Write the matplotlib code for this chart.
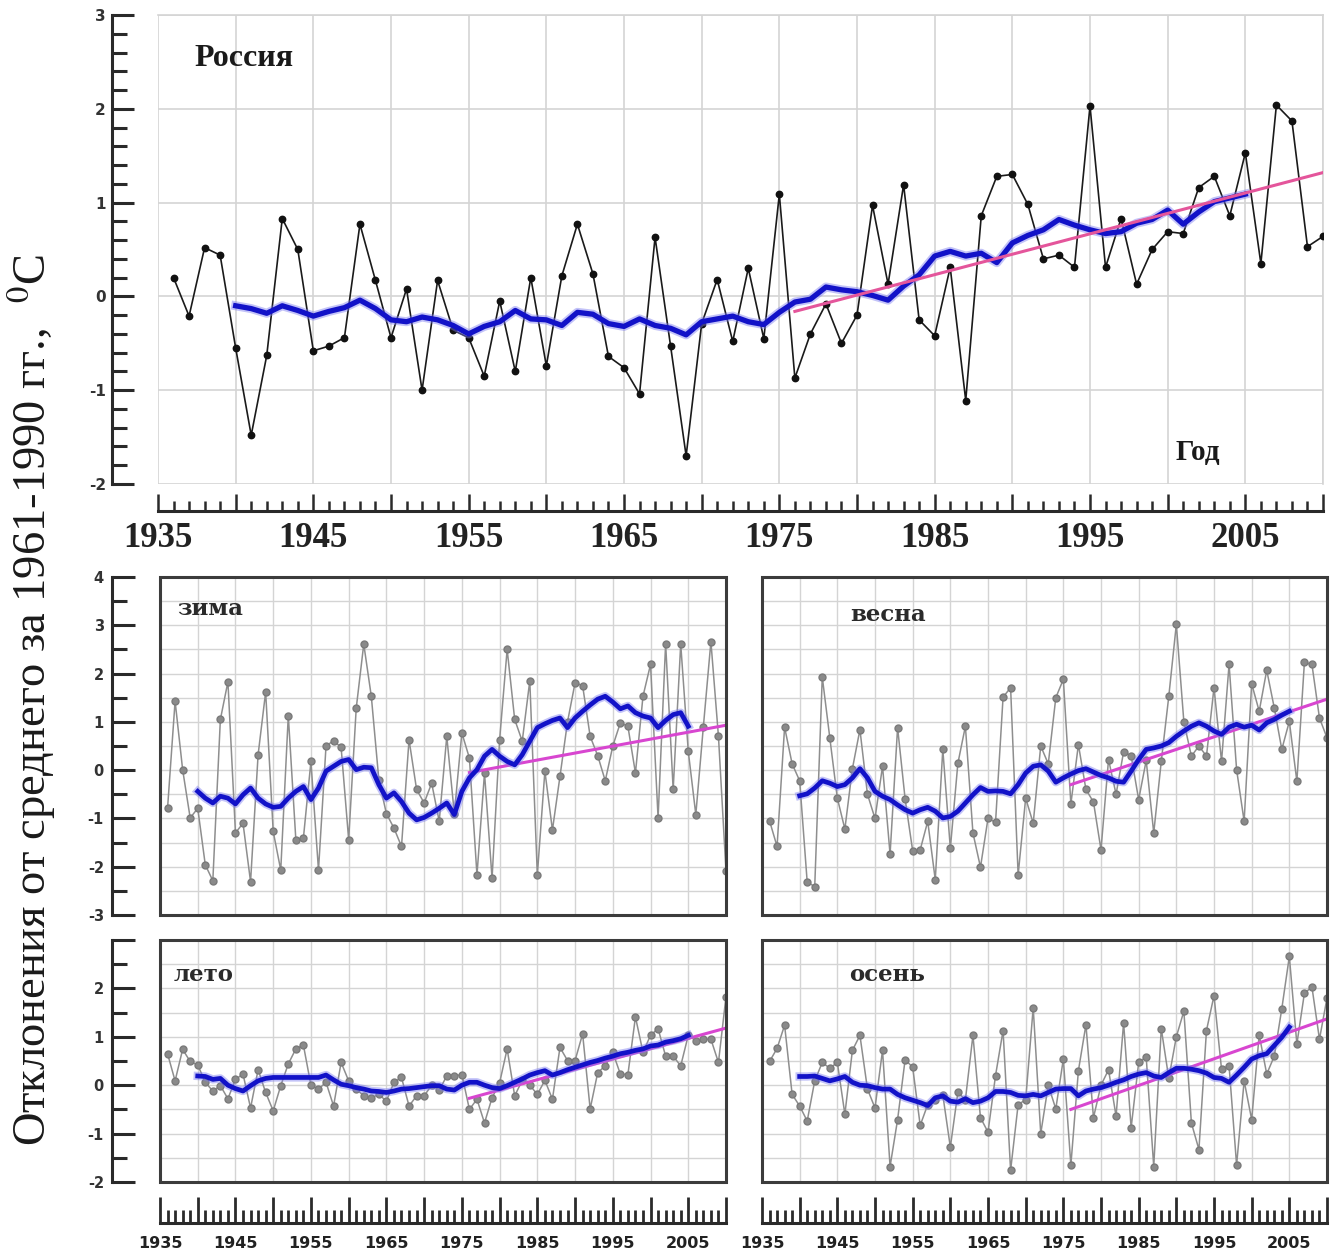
import numpy as np
import matplotlib
matplotlib.use("Agg")
import matplotlib.pyplot as plt
from matplotlib.patches import Rectangle
from matplotlib.ticker import MultipleLocator, FixedLocator, FuncFormatter

plt.rcParams['mathtext.fontset'] = 'stix'
plt.rcParams['axes.unicode_minus'] = False

# ---------------- data: temperature anomalies, deg C (base 1961-1990) ----------------
years = list(range(1936, 2011))

annual = [0.20, -0.21, 0.52, 0.44, -0.55, -1.48, -0.63, 0.83, 0.50, -0.58,
          -0.53, -0.44, 0.77, 0.17, -0.44, 0.08, -1.00, 0.17, -0.36, -0.44,
          -0.85, -0.05, -0.80, 0.20, -0.74, 0.22, 0.77, 0.24, -0.64, -0.76,
          -1.04, 0.63, -0.53, -1.70, -0.29, 0.18, -0.48, 0.30, -0.45, 1.09,
          -0.87, -0.40, -0.08, -0.50, -0.20, 0.97, 0.13, 1.19, -0.25, -0.42,
          0.31, -1.11, 0.86, 1.28, 1.30, 0.98, 0.40, 0.44, 0.31, 2.03,
          0.31, 0.83, 0.13, 0.50, 0.69, 0.67, 1.16, 1.28, 0.86, 1.53,
          0.35, 2.04, 1.87, 0.53, 0.64]

winter = [-0.79, 1.43, 0.01, -0.99, -0.79, -1.96, -2.29, 1.05, 1.83, -1.30,
          -1.10, -2.31, 0.32, 1.62, -1.27, -2.07, 1.13, -1.44, -1.41, 0.18,
          -2.07, 0.50, 0.61, 0.47, -1.44, 1.28, 2.61, 1.53, -0.20, -0.90,
          -1.20, -1.58, 0.63, -0.40, -0.68, -0.27, -1.06, 0.70, -0.90, 0.77,
          0.25, -2.17, -0.06, -2.24, 0.63, 2.50, 1.05, 0.60, 1.85, -2.17,
          -0.02, -1.24, -0.13, 1.00, 1.81, 1.75, 0.70, 0.30, -0.22, 0.50,
          0.98, 0.91, -0.06, 1.53, 2.19, -0.99, 2.62, -0.40, 2.61, 0.39,
          -0.92, 0.90, 2.66, 0.70, -2.09]

spring = [-1.05, -1.58, 0.89, 0.13, -0.22, -2.32, -2.41, 1.93, 0.67, -0.58,
          -1.22, 0.03, 0.84, -0.50, -1.00, 0.08, -1.74, 0.88, -0.60, -1.67,
          -1.65, -1.06, -2.27, 0.43, -1.62, 0.14, 0.91, -1.30, -2.01, -1.00,
          -1.08, 1.51, 1.71, -2.17, -0.58, -1.10, 0.50, 0.13, 1.50, 1.88,
          -0.70, 0.53, -0.40, -0.66, -1.65, 0.22, -0.50, 0.38, 0.30, -0.61,
          0.20, -1.30, 0.18, 1.53, 3.02, 1.00, 0.29, 0.50, 0.29, 1.71,
          0.18, 2.19, 0.01, -1.06, 1.79, 1.22, 2.07, 1.29, 0.43, 1.01,
          -0.23, 2.23, 2.19, 1.08, 0.67]

summer = [0.65, 0.09, 0.74, 0.49, 0.42, 0.06, -0.12, -0.01, -0.28, 0.12,
          0.23, -0.47, 0.32, -0.15, -0.53, -0.01, 0.44, 0.75, 0.83, 0.00,
          -0.08, 0.06, -0.43, 0.47, 0.09, -0.08, -0.22, -0.26, -0.19, -0.33,
          0.06, 0.16, -0.43, -0.22, -0.22, 0.00, -0.10, 0.19, 0.19, 0.22,
          -0.50, -0.29, -0.78, -0.26, 0.05, 0.75, -0.22, 0.10, 0.00, -0.19,
          0.10, -0.29, 0.78, 0.51, 0.51, 1.06, -0.49, 0.26, 0.40, 0.68,
          0.23, 0.22, 1.41, 0.68, 1.03, 1.17, 0.60, 0.60, 0.40, 1.03,
          0.92, 0.95, 0.95, 0.47, 1.83]

autumn = [0.49, 0.76, 1.24, -0.19, -0.43, -0.74, 0.09, 0.47, 0.35, 0.47,
          -0.60, 0.72, 1.03, -0.08, -0.47, 0.72, -1.68, -0.71, 0.53, 0.37,
          -0.83, -0.40, -0.30, -0.20, -1.28, -0.15, -0.30, 1.03, -0.67, -0.97,
          0.20, 1.13, -1.76, -0.40, -0.30, 1.60, -1.00, 0.00, -0.49, 0.54,
          -1.65, 0.30, 1.25, -0.67, 0.00, 0.32, -0.64, 1.29, -0.88, 0.47,
          0.58, -1.68, 1.17, 0.14, 1.00, 1.53, -0.78, -1.33, 1.13, 1.85,
          0.33, 0.40, -1.65, 0.09, -0.71, 1.04, 0.23, 0.60, 1.58, 2.66,
          0.85, 1.90, 2.03, 0.95, 1.80]

# smoothed curves (running means), 1940-2005
smooth_years = list(range(1940, 2006))

annual_smooth = [-0.10, -0.13, -0.18, -0.10, -0.15, -0.21, -0.16, -0.12, -0.04, -0.13,
                 -0.25, -0.27, -0.22, -0.25, -0.31, -0.40, -0.32, -0.27, -0.15, -0.24,
                 -0.25, -0.31, -0.17, -0.19, -0.29, -0.32, -0.24, -0.31, -0.34, -0.41,
                 -0.27, -0.24, -0.21, -0.27, -0.30, -0.17, -0.06, -0.03, 0.10, 0.07,
                 0.05, 0.01, -0.04, 0.11, 0.23, 0.43, 0.48, 0.43, 0.46, 0.36,
                 0.57, 0.65, 0.71, 0.82, 0.76, 0.71, 0.67, 0.69, 0.78, 0.82,
                 0.92, 0.77, 0.90, 1.01, 1.05, 1.09]

winter_smooth = [-0.44, -0.58, -0.68, -0.54, -0.58, -0.70, -0.51, -0.37, -0.58, -0.70,
                 -0.77, -0.75, -0.58, -0.44, -0.34, -0.61, -0.37, -0.02, 0.08, 0.18,
                 0.22, 0.01, 0.06, 0.05, -0.30, -0.58, -0.47, -0.65, -0.89, -1.03,
                 -0.98, -0.89, -0.79, -0.68, -0.92, -0.44, -0.16, 0.01, 0.29, 0.43,
                 0.29, 0.18, 0.11, 0.32, 0.60, 0.88, 0.96, 1.03, 1.08, 0.88,
                 1.08, 1.22, 1.35, 1.47, 1.53, 1.41, 1.27, 1.33, 1.19, 1.12,
                 1.08, 0.88, 1.03, 1.15, 1.19, 0.91]

spring_smooth = [-0.53, -0.49, -0.37, -0.22, -0.27, -0.34, -0.30, -0.16, 0.03, -0.16,
                 -0.44, -0.54, -0.61, -0.72, -0.82, -0.89, -0.82, -0.77, -0.85, -0.99,
                 -0.96, -0.85, -0.68, -0.51, -0.36, -0.44, -0.43, -0.44, -0.49, -0.30,
                 -0.06, 0.08, 0.11, -0.02, -0.25, -0.16, -0.08, -0.01, 0.03, -0.04,
                 -0.11, -0.16, -0.23, -0.25, -0.02, 0.22, 0.43, 0.46, 0.50, 0.57,
                 0.70, 0.81, 0.91, 0.98, 0.91, 0.81, 0.74, 0.89, 0.95, 0.89,
                 0.93, 0.83, 0.98, 1.05, 1.14, 1.22]

summer_smooth = [0.19, 0.18, 0.12, 0.14, 0.00, -0.07, -0.12, -0.01, 0.09, 0.14,
                 0.16, 0.16, 0.16, 0.16, 0.16, 0.16, 0.16, 0.21, 0.11, 0.02,
                 -0.01, -0.05, -0.08, -0.12, -0.13, -0.15, -0.12, -0.08, -0.07, -0.05,
                 -0.03, -0.01, -0.01, -0.08, -0.10, 0.00, 0.06, 0.06, 0.00, -0.05,
                 -0.07, -0.01, 0.06, 0.13, 0.21, 0.26, 0.30, 0.21, 0.26, 0.32,
                 0.37, 0.42, 0.47, 0.51, 0.56, 0.60, 0.65, 0.68, 0.72, 0.75,
                 0.81, 0.83, 0.89, 0.92, 0.96, 1.03]

autumn_smooth = [0.18, 0.18, 0.19, 0.14, 0.09, 0.13, 0.18, 0.06, 0.00, -0.01,
                 -0.05, -0.08, -0.08, -0.19, -0.26, -0.31, -0.36, -0.42, -0.26, -0.22,
                 -0.33, -0.35, -0.28, -0.36, -0.33, -0.26, -0.13, -0.13, -0.15, -0.21,
                 -0.22, -0.19, -0.22, -0.15, -0.08, -0.07, -0.07, -0.22, -0.12, -0.08,
                 -0.05, 0.00, 0.06, 0.11, 0.18, 0.23, 0.26, 0.19, 0.16, 0.26,
                 0.35, 0.35, 0.33, 0.30, 0.25, 0.16, 0.14, 0.06, 0.21, 0.37,
                 0.54, 0.61, 0.65, 0.82, 0.99, 1.20]

# linear trends 1976-2010 (values at the end points)
trend_years = [1976, 2010]
annual_trend = [-0.16, 1.32]
winter_trend = [-0.05, 0.93]
spring_trend = [-0.30, 1.47]
summer_trend = [-0.27, 1.18]
autumn_trend = [-0.50, 1.37]

year_ticks = list(range(1935, 2011, 5))
year_labels = ['1935', '1945', '1955', '1965', '1975', '1985', '1995', '2005']

panel_titles = ['зима', 'весна', 'лето', 'осень']
ylabel_text = 'Отклонения от среднего за 1961-1990 гг.,  $^{\\rm 0}$C'

# ---------------- figure ----------------
W, H = 1335, 1254
fig = plt.figure(figsize=(W / 100, H / 100), dpi=100)


def px2pt(v):
    return v * 72.0 / 100.0


def add_box(x0, y0, x1, y1):
    return fig.add_axes([x0 / W, 1 - y1 / H, (x1 - x0) / W, (y1 - y0) / H])


def year_fmt(v, pos):
    s = str(int(round(v)))
    return s if s in year_labels else ''


BLUE = '#1212c8'
BLUE_HALO = '#7a7af0'
GRID = '#d4d4d4'
AXC = '#2a2a2a'

# ---- top panel (annual, Russia) ----
ax = add_box(158, 15, 1323, 484)
ax.set_xlim(1935, 2010)
ax.set_ylim(-2, 3)
ax.xaxis.set_major_locator(FixedLocator(year_ticks))
ax.xaxis.set_minor_locator(MultipleLocator(1))
ax.yaxis.set_major_locator(MultipleLocator(1))
ax.yaxis.set_minor_locator(MultipleLocator(0.2))
ax.grid(True, which='major', color=GRID, lw=1.2, zorder=0)
ax.set_axisbelow(True)
for s in ('top', 'right'):
    ax.spines[s].set_color(GRID)
    ax.spines[s].set_linewidth(1.2)
ax.spines['left'].set_position(('outward', px2pt(46)))
ax.spines['bottom'].set_position(('outward', px2pt(27)))
for s in ('left', 'bottom'):
    ax.spines[s].set_color(AXC)
    ax.spines[s].set_linewidth(2.2)
ax.xaxis.set_major_formatter(FuncFormatter(year_fmt))
ax.tick_params(axis='x', which='major', direction='in', length=px2pt(17), width=1.8,
               color=AXC, pad=px2pt(11))
ax.tick_params(axis='x', which='minor', direction='in', length=px2pt(10), width=1.8,
               color=AXC)
ax.tick_params(axis='y', which='major', direction='in', length=px2pt(22), width=2.2,
               color=AXC, pad=px2pt(6))
ax.tick_params(axis='y', which='minor', direction='in', length=px2pt(15), width=2.2,
               color=AXC)
for lab in ax.get_xticklabels():
    lab.set_fontfamily('Liberation Serif')
    lab.set_fontsize(25)
    lab.set_fontweight('bold')
    lab.set_color('#222222')
for lab in ax.get_yticklabels():
    lab.set_fontfamily('DejaVu Sans')
    lab.set_fontsize(11)
    lab.set_fontweight('bold')
    lab.set_color('#333333')

ax.plot(years, annual, color='#1a1a1a', lw=1.2, marker='o', ms=4.6,
        mfc='#111111', mec='#111111', zorder=3)
ax.plot(smooth_years, annual_smooth, color=BLUE_HALO, lw=6.5, alpha=0.45,
        solid_joinstyle='round', zorder=4)
ax.plot(smooth_years, annual_smooth, color=BLUE, lw=3.8,
        solid_joinstyle='round', zorder=5)
ax.plot(trend_years, annual_trend, color='#e4559b', lw=2.2, zorder=6)
ax.text(1937.35, 2.54, 'Россия', family='Liberation Serif', fontsize=23,
        fontweight='bold', ha='left', va='center', color='#1a1a1a')
ax.text(2000.5, -1.66, 'Год', family='Liberation Serif', fontsize=21,
        fontweight='bold', ha='left', va='center', color='#1a1a1a')


# ---- seasonal panels ----
def season_panel(box, ylim, values, smooth, trend, title, title_px, show_y, top_label):
    a = add_box(*box)
    a.set_xlim(1935, 2010)
    a.set_ylim(*ylim)
    a.xaxis.set_major_locator(FixedLocator(year_ticks))
    a.yaxis.set_major_locator(MultipleLocator(1))
    a.yaxis.set_minor_locator(MultipleLocator(0.5))
    a.grid(True, which='both', color=GRID, lw=1.0, zorder=0)
    a.set_axisbelow(True)
    for s in a.spines.values():
        s.set_visible(False)
    a.add_patch(Rectangle((0, 0), 1, 1, transform=a.transAxes, fill=False,
                          ec='#3c3c3c', lw=2.2, zorder=10, clip_on=False))
    a.tick_params(axis='x', which='both', bottom=False, labelbottom=False)
    if show_y:
        a.spines['left'].set_visible(True)
        a.spines['left'].set_position(('outward', px2pt(48)))
        a.spines['left'].set_color(AXC)
        a.spines['left'].set_linewidth(2.2)
        a.yaxis.set_major_formatter(FuncFormatter(
            lambda v, p: '' if (v > ylim[1] - 0.5 and not top_label) else '%d' % round(v)))
        a.tick_params(axis='y', which='major', direction='in', length=px2pt(23),
                      width=2.2, color=AXC, pad=px2pt(8))
        a.tick_params(axis='y', which='minor', direction='in', length=px2pt(15),
                      width=2.2, color=AXC)
        for lab in a.get_yticklabels():
            lab.set_fontfamily('DejaVu Sans')
            lab.set_fontsize(10.5)
            lab.set_fontweight('bold')
            lab.set_color('#333333')
    else:
        a.tick_params(axis='y', which='both', left=False, labelleft=False)
    a.plot(years, values, color='#8e8e8e', lw=1.1, marker='o', ms=5,
           mfc='#8a8a8a', mec='#7a7a7a', zorder=3)
    a.plot(trend_years, trend, color='#d846d0', lw=2.2, zorder=4)
    a.plot(smooth_years, smooth, color=BLUE_HALO, lw=6, alpha=0.45,
           solid_joinstyle='round', zorder=5)
    a.plot(smooth_years, smooth, color=BLUE, lw=3.4,
           solid_joinstyle='round', zorder=6)
    # title placed by pixel position of its left edge and baseline
    x0, y0, x1, y1 = box
    a.text((title_px[0] - x0) / (x1 - x0), 1 - (title_px[1] - y0) / (y1 - y0), title,
           transform=a.transAxes, family='DejaVu Serif', fontsize=16.5,
           fontweight='bold', ha='left', va='baseline', color='#2a2a2a', zorder=11)
    return a


season_panel((160, 577, 726, 915), (-3, 4), winter, winter_smooth, winter_trend,
             panel_titles[0], (177, 615), True, True)
season_panel((762, 577, 1327, 915), (-3, 4), spring, spring_smooth, spring_trend,
             panel_titles[1], (850, 621), False, True)
season_panel((160, 940, 726, 1182), (-2, 3), summer, summer_smooth, summer_trend,
             panel_titles[2], (174, 981), True, False)
season_panel((762, 940, 1327, 1182), (-2, 3), autumn, autumn_smooth, autumn_trend,
             panel_titles[3], (849, 981), False, False)


# ---- shared year axes below the seasonal panels ----
def year_axis(x0, x1):
    a = add_box(x0, 1196, x1, 1223)
    a.set_xlim(1935, 2010)
    a.set_ylim(0, 1)
    for s in ('top', 'right', 'left'):
        a.spines[s].set_visible(False)
    a.spines['bottom'].set_color(AXC)
    a.spines['bottom'].set_linewidth(2.2)
    a.set_yticks([])
    a.patch.set_alpha(0)
    a.xaxis.set_major_locator(FixedLocator(year_ticks))
    a.xaxis.set_minor_locator(MultipleLocator(1))
    a.xaxis.set_major_formatter(FuncFormatter(year_fmt))
    a.tick_params(axis='x', which='major', direction='in', length=px2pt(26),
                  width=2.0, color=AXC, pad=px2pt(13))
    a.tick_params(axis='x', which='minor', direction='in', length=px2pt(13),
                  width=2.0, color=AXC)
    for lab in a.get_xticklabels():
        lab.set_fontfamily('DejaVu Sans')
        lab.set_fontsize(11.5)
        lab.set_fontweight('bold')
        lab.set_color('#222222')


year_axis(160, 726)
year_axis(762, 1327)

fig.text(31 / W, 1 - 700 / H, ylabel_text, rotation=90, ha='center', va='center',
         family='Liberation Serif', fontsize=33.5, color='#1a1a1a')

fig.savefig('out.png', dpi=100)
